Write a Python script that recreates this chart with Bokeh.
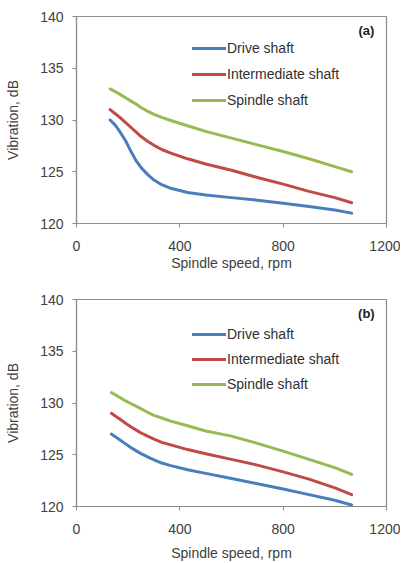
from bokeh.plotting import figure
from bokeh.models import Range1d, Legend, LegendItem, Label, FixedTicker
from bokeh.layouts import column
from bokeh.embed import file_html
from bokeh.resources import INLINE

# ---- data ----
speed_a = [130, 150, 170, 190, 210, 230, 250, 275, 300, 330, 365, 430, 500, 600, 700, 800, 900, 1000, 1065]
speed_b = [135, 150, 170, 190, 210, 230, 250, 275, 300, 330, 365, 430, 500, 600, 700, 800, 900, 1000, 1065]

drive_a = [130.0, 129.5, 128.8, 128.0, 127.0, 126.1, 125.4, 124.75, 124.2, 123.75, 123.4, 123.0, 122.75,
           122.5, 122.25, 121.95, 121.65, 121.3, 121.0]
inter_a = [131.0, 130.6, 130.2, 129.75, 129.3, 128.85, 128.4, 127.95, 127.55, 127.15, 126.8, 126.25, 125.75,
           125.15, 124.45, 123.8, 123.1, 122.5, 122.0]
spind_a = [133.0, 132.75, 132.45, 132.15, 131.85, 131.55, 131.2, 130.85, 130.55, 130.25, 129.95, 129.45, 128.9,
           128.25, 127.6, 126.95, 126.25, 125.5, 125.0]

drive_b = [127.0, 126.75, 126.4, 126.05, 125.7, 125.4, 125.1, 124.8, 124.5, 124.2, 123.95, 123.55, 123.2,
           122.7, 122.2, 121.7, 121.15, 120.6, 120.15]
inter_b = [129.0, 128.75, 128.4, 128.05, 127.7, 127.4, 127.1, 126.8, 126.5, 126.2, 125.95, 125.5, 125.1,
           124.55, 124.0, 123.35, 122.65, 121.8, 121.15]
spind_b = [131.0, 130.8, 130.5, 130.2, 129.95, 129.7, 129.45, 129.1, 128.8, 128.55, 128.25, 127.8, 127.3,
           126.8, 126.1, 125.35, 124.55, 123.75, 123.1]

series_names = ["Drive shaft", "Intermediate shaft", "Spindle shaft"]
colors = ["#4a7ebb", "#be4b48", "#98b954"]
x_ticks = [0, 400, 800, 1200]
y_ticks = [120, 125, 130, 135, 140]
panel_tags = ["(a)", "(b)"]

FONT = "Liberation Sans"
TXT = "#404040"
FRAME = "#8c8c8c"


def make_panel(xs, ys, tag, height, b_top, b_bottom, leg_y, spacing, xlab_standoff):
    p = figure(width=400, height=height, output_backend="svg", toolbar_location=None,
               x_range=Range1d(0, 1200), y_range=Range1d(120, 140),
               min_border_left=76, min_border_right=14,
               min_border_top=b_top, min_border_bottom=b_bottom)
    p.xgrid.visible = False
    p.ygrid.visible = False
    p.outline_line_color = FRAME
    p.outline_line_width = 1.2
    p.background_fill_color = "white"
    p.border_fill_color = "white"

    renderers = []
    for y, c in zip(ys, colors):
        r = p.line(xs, y, line_color=c, line_width=3, line_join="round", line_cap="round")
        renderers.append(r)

    for ax in (p.xaxis[0], p.yaxis[0]):
        ax.axis_line_color = FRAME
        ax.axis_line_width = 1.2
        ax.major_tick_line_color = FRAME
        ax.major_tick_out = 4
        ax.major_tick_in = 0
        ax.minor_tick_line_color = None
        ax.major_label_text_font = FONT
        ax.major_label_text_font_size = "14px"
        ax.major_label_text_color = TXT
        ax.axis_label_text_font = FONT
        ax.axis_label_text_font_size = "14px"
        ax.axis_label_text_font_style = "normal"
        ax.axis_label_text_color = TXT

    p.xaxis.ticker = FixedTicker(ticks=x_ticks)
    p.yaxis.ticker = FixedTicker(ticks=y_ticks)
    p.xaxis.axis_label = "Spindle speed, rpm"
    p.yaxis.axis_label = "Vibration, dB"
    p.xaxis.major_label_standoff = 13
    p.xaxis.axis_label_standoff = xlab_standoff
    p.yaxis.major_label_standoff = 9
    p.yaxis.axis_label_standoff = 16

    items = [LegendItem(label=n, renderers=[r]) for n, r in zip(series_names, renderers)]
    leg = Legend(items=items, location=(116, leg_y), padding=0, margin=0,
                 border_line_color=None, background_fill_alpha=0,
                 glyph_width=34, glyph_height=20, spacing=spacing, label_standoff=1,
                 label_text_font=FONT, label_text_font_size="14px", label_text_color="#303030")
    p.add_layout(leg)

    p.add_layout(Label(x=1122, y=138.6, text=tag, text_font=FONT, text_font_size="13px",
                       text_font_style="bold", text_color="#202020",
                       text_align="center", text_baseline="middle"))
    return p


pa = make_panel(speed_a, [drive_a, inter_a, spind_a], panel_tags[0], 280, 16, 57, 113, 6, 1)
pb = make_panel(speed_b, [drive_b, inter_b, spind_b], panel_tags[1], 283, 19, 57, 112, 5, 8)

layout = column(pa, pb, spacing=0)
open("out.html", "w").write(file_html(layout, INLINE))
